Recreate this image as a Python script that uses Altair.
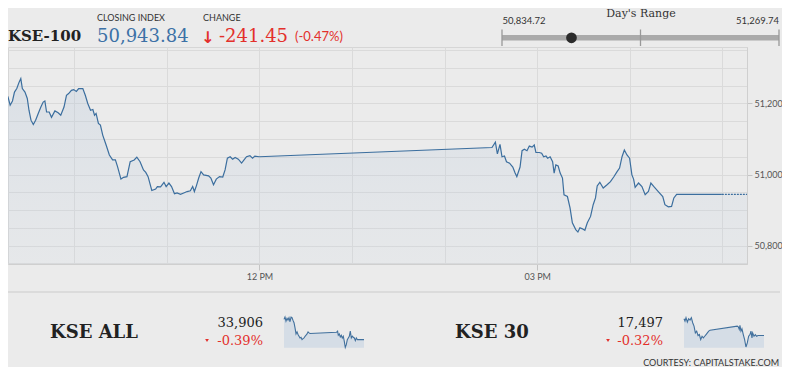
import altair as alt
import pandas as pd

# ---------------- data ----------------
# KSE-100 intraday: minute of the day (9:17 = 557) and index level
morning_minutes = [556.9, 558.4, 559.9, 561.2, 562.7, 564.2, 565.3, 566.3, 568.0, 569.5,
                   570.6, 571.9, 573.4, 574.9, 576.6, 578.3, 579.8, 580.9, 582.0, 583.7,
                   585.2, 587.4, 589.5, 591.2, 593.3, 594.9, 596.3, 598.1, 599.6, 601.3,
                   602.8, 605.5, 607.1, 608.7, 610.5, 612.0, 613.1, 614.1, 615.6, 616.9,
                   618.4, 620.6, 622.7, 624.8, 626.6, 628.0, 630.2, 631.9, 634.1, 636.2,
                   638.8, 640.5, 642.6, 644.8, 646.3, 647.8, 650.2, 652.7, 653.8, 655.9,
                   658.1, 659.5, 661.3, 663.0, 664.9, 666.6, 668.8, 670.9, 673.1, 675.2,
                   676.7, 677.8, 679.1, 680.6, 682.1, 683.8, 687.0, 688.5, 690.2, 692.0,
                   694.1, 696.2, 697.7, 699.2, 701.0, 702.6, 704.2, 706.3, 708.4, 710.0,
                   711.6, 713.8, 715.5, 717.0, 719.8]
morning_values = [51220, 51195, 51207, 51232, 51242, 51260, 51270, 51242, 51232, 51214,
                  51181, 51153, 51141, 51153, 51172, 51190, 51204, 51207, 51176, 51176,
                  51161, 51179, 51174, 51167, 51190, 51223, 51228, 51237, 51239, 51234,
                  51242, 51242, 51223, 51200, 51181, 51183, 51167, 51172, 51144, 51139,
                  51111, 51083, 51055, 51041, 51041, 51022, 50987, 50992, 50994, 51036,
                  51041, 51049, 51036, 51013, 51006, 50994, 50955, 50959, 50966, 50965,
                  50978, 50966, 50976, 50966, 50946, 50948, 50944, 50948, 50952, 50954,
                  50966, 50952, 50968, 50990, 51008, 50999, 50996, 50990, 50971, 50987,
                  50994, 50993, 51013, 51046, 51050, 51043, 51048, 51043, 51032, 51041,
                  51050, 51053, 51046, 51052, 51050]
afternoon_minutes = [870.7, 872.9, 874.2, 875.9, 877.2, 878.8, 880.1, 882.1, 884.2, 885.7,
                     886.8, 888.9, 890.2, 891.7, 893.4, 894.9, 896.7, 898.1, 899.2, 901.4,
                     902.9, 904.2, 905.7, 906.8, 908.4, 910.0, 911.0, 912.1, 913.6, 914.9,
                     916.4, 917.4, 919.6, 921.3, 922.8, 925.0, 926.4, 927.7, 929.3, 930.9,
                     932.5, 934.6, 936.3, 937.8, 938.9, 940.6, 942.8, 945.3, 947.5, 949.6,
                     951.8, 953.4, 955.0, 956.5, 958.2, 959.9, 961.4, 962.5, 963.5, 965.7,
                     967.9, 970.0, 972.1, 973.7, 975.8, 978.5, 981.4, 982.8, 985.0, 987.1,
                     988.6, 990.4, 1019.7]
afternoon_values = [51076, 51091, 51058, 51085, 51050, 51052, 51036, 51032, 51021, 51004,
                    50994, 51021, 51067, 51071, 51067, 51080, 51077, 51083, 51062, 51062,
                    51060, 51050, 51052, 51046, 51050, 51036, 51004, 51027, 51024, 51004,
                    50990, 50943, 50938, 50906, 50864, 50845, 50838, 50850, 50847, 50843,
                    50864, 50882, 50915, 50934, 50968, 50978, 50962, 50971, 50980, 50993,
                    51008, 51018, 51050, 51069, 51055, 51046, 50999, 50987, 50964, 50976,
                    50966, 50943, 50952, 50976, 50965, 50952, 50938, 50915, 50909, 50910,
                    50934, 50944, 50943.84]
tail_minutes = [1019.7, 1036]
tail_values = [50943.84, 50943.84]

day_low = 50834.72
day_high = 51269.74
closing_index = 50943.84

kse_all_minutes = [557, 563, 569, 575, 581, 587, 593, 599, 605, 611, 617, 623, 629, 635,
                   641, 647, 653, 659, 665, 671, 677, 683, 689, 695, 701, 707, 713,
                   872, 878, 882, 888, 894, 900, 906, 912, 918, 924, 930, 936, 942, 948,
                   954, 960, 966, 972, 978, 984, 990, 996, 1036]
kse_all_values = [34026, 34040, 34016, 34032, 34022, 34036, 34012, 34040, 34036, 34020,
                  34006, 33976, 33940, 33952, 33936, 33926, 33916, 33920, 33906, 33912,
                  33916, 33926, 33932, 33940, 33952, 33946, 33942,
                  33950, 33956, 33932, 33940, 33922, 33932, 33916, 33926, 33896, 33860,
                  33876, 33906, 33916, 33926, 33956, 33916, 33926, 33920, 33916, 33900,
                  33916, 33906, 33906]
kse30_minutes = [557, 563, 569, 577, 585, 593, 601, 609, 617, 625, 633, 641, 649, 657,
                 665, 673, 681, 689, 697, 705, 713,
                 876, 882, 888, 892, 898, 904, 912, 920, 928, 936, 944, 952, 958, 964,
                 968, 976, 984, 992, 1000, 1036]
kse30_values = [17547, 17540, 17550, 17537, 17547, 17543, 17550, 17535, 17525, 17505,
                17510, 17497, 17500, 17485, 17495, 17490, 17495, 17500, 17505, 17510, 17513,
                17525, 17523, 17515, 17527, 17510, 17517, 17500, 17485, 17463, 17475,
                17495, 17500, 17510, 17490, 17505, 17495, 17500, 17495, 17497, 17497]

title_main = "KSE-100"
label_close = "CLOSING INDEX"
label_change = "CHANGE"
text_close = "50,943.84"
text_change = "-241.45"
text_change_pct = "(-0.47%)"
text_range_title = "Day's Range"
text_low = "50,834.72"
text_high = "51,269.74"
kse_all_name, kse_all_close, kse_all_pct = "KSE ALL", "33,906", "-0.39%"
kse30_name, kse30_close, kse30_pct = "KSE 30", "17,497", "-0.32%"
courtesy = "COURTESY: CAPITALSTAKE.COM"

# ---------------- styling ----------------
OX, OY = 8, 47          # page position of the plot origin
BG = "#ebebeb"
BLUE_LINE = "#3b6e9e"
RED = "#e3302b"
DARK = "#222222"
SERIF = "DejaVu Serif"
SANS = "Lato"

main_df = pd.DataFrame({"minute": morning_minutes + afternoon_minutes,
                        "level": morning_values + afternoon_values})
area_df = pd.DataFrame({"minute": morning_minutes + afternoon_minutes + tail_minutes[1:],
                        "level": morning_values + afternoon_values + tail_values[1:]})
tail_df = pd.DataFrame({"minute": tail_minutes, "level": tail_values})

X_DOM = [557, 1036]
Y_DOM = [50748, 51359]

xs = alt.Scale(domain=X_DOM, nice=False, zero=False)
ys = alt.Scale(domain=Y_DOM, nice=False, zero=False)

x_axis = alt.Axis(
    values=[600, 660, 720, 780, 840, 900, 960, 1020],
    labelExpr="datum.value == 720 ? '12 PM' : (datum.value == 900 ? '03 PM' : '')",
    grid=True, gridColor="#dadada", gridWidth=1,
    domainColor="#cfcfcf", tickColor="#c4c4c4", tickSize=6,
    tickOpacity={"condition": {"test": "datum.value == 720 || datum.value == 900", "value": 1}, "value": 0},
    labelFont=SANS, labelFontSize=9, labelColor="#555555", labelPadding=2, title=None,
)
y_axis = alt.Axis(
    orient="right",
    values=list(range(50750, 51351, 50)),
    labelExpr="datum.value % 200 == 0 ? format(datum.value, ',') : ''",
    grid=True, gridColor="#dadada", gridWidth=1,
    domainColor="#cfcfcf", tickColor="#c4c4c4", tickSize=5,
    tickOpacity={"condition": {"test": "datum.value % 200 == 0", "value": 1}, "value": 0},
    labelFont=SANS, labelFontSize=9, labelColor="#555555", labelPadding=2, title=None,
)

area = alt.Chart(area_df).mark_area(
    interpolate="linear",
    color=alt.Gradient(
        gradient="linear",
        stops=[alt.GradientStop(color="rgba(180,198,218,0.30)", offset=0),
               alt.GradientStop(color="rgba(200,212,226,0.14)", offset=1)],
        x1=1, x2=1, y1=0, y2=1),
).encode(
    x=alt.X("minute:Q", scale=xs, axis=None),
    y=alt.Y("level:Q", scale=ys, axis=None),
    y2=alt.datum(Y_DOM[0]),
)

line = alt.Chart(main_df).mark_line(color=BLUE_LINE, strokeWidth=1.2).encode(
    x=alt.X("minute:Q", scale=xs, axis=x_axis),
    y=alt.Y("level:Q", scale=ys, axis=y_axis),
)

tail = alt.Chart(tail_df).mark_line(color=BLUE_LINE, strokeWidth=1.2, strokeDash=[2, 1]).encode(
    x=alt.X("minute:Q", scale=xs, axis=None),
    y=alt.Y("level:Q", scale=ys, axis=None),
)

# ---------------- day's range widget ----------------
rs = alt.Scale(domain=[day_low, day_high], range=[502 - OX, 779 - OX], nice=False, zero=False)
range_bar = alt.Chart(pd.DataFrame({"lo": [day_low], "hi": [day_high]})).mark_rule(
    color="#aaaaaa", strokeWidth=5.5).encode(
    x=alt.X("lo:Q", scale=rs, axis=None), x2="hi:Q", y=alt.value(37.8 - OY))
range_ticks = alt.Chart(pd.DataFrame({"v": [day_low, (day_low + day_high) / 2, day_high]})).mark_rule(
    color="#999999", strokeWidth=1.3).encode(
    x=alt.X("v:Q", scale=rs, axis=None), y=alt.value(29.5 - OY), y2=alt.value(46 - OY))
range_dot = alt.Chart(pd.DataFrame({"v": [closing_index]})).mark_point(
    filled=True, size=115, color="#2b2b2b", opacity=1).encode(
    x=alt.X("v:Q", scale=rs, axis=None), y=alt.value(37.8 - OY))

# ---------------- sparklines ----------------
def spark(minutes, values, x0, x1, vmin, vmax, ytop, ybot):
    df = pd.DataFrame({"m": minutes, "v": values})
    sx = alt.Scale(domain=X_DOM, range=[x0 - OX, x1 - OX], nice=False, zero=False)
    sy = alt.Scale(domain=[vmin, vmax], range=[ybot - OY, ytop - OY], nice=False, zero=False)
    a = alt.Chart(df).mark_area(color="#d5dde6", interpolate="linear").encode(
        x=alt.X("m:Q", scale=sx, axis=None),
        y=alt.Y("v:Q", scale=sy, axis=None),
        y2=alt.datum(vmin))
    l = alt.Chart(df).mark_line(color="#41709d", strokeWidth=1.1).encode(
        x=alt.X("m:Q", scale=sx, axis=None),
        y=alt.Y("v:Q", scale=sy, axis=None))
    return [a, l]

spark_all = spark(kse_all_minutes, kse_all_values, 284, 364, 33858, 34042, 316.7, 347.7)
spark_30 = spark(kse30_minutes, kse30_values, 684, 764, 17461, 17552, 317.0, 347.7)

# ---------------- texts & decorations ----------------
def txt(s, px, py, size, color, font=SANS, weight="normal", align="left"):
    return alt.Chart(pd.DataFrame({"s": [s]})).mark_text(
        align=align, baseline="alphabetic", font=font, fontSize=size,
        fontWeight=weight, color=color).encode(
        x=alt.value(px - OX), y=alt.value(py - OY), text="s:N")

texts = [
    txt(title_main, 8, 40.7, 15, DARK, SERIF, "bold"),
    txt(label_close, 97, 20.7, 9, "#333333"),
    txt(label_change, 203, 20.7, 9, "#333333"),
    txt(text_close, 97, 41.7, 18, "#3c71a6", SERIF),
    txt("\u2193", 201, 42.5, 16, RED, "DejaVu Sans", "bold"),
    txt(text_change, 219, 41.7, 18, RED, SERIF),
    txt(text_change_pct, 295, 40.5, 13, RED),
    txt(text_range_title, 641, 16.7, 11, "#333333", SERIF, align="center"),
    txt(text_low, 502.5, 24, 9.5, "#333333"),
    txt(text_high, 779, 24, 9.5, "#333333", align="right"),
    txt(kse_all_name, 50, 338.3, 18, DARK, SERIF, "bold"),
    txt(kse_all_close, 263, 327.3, 13, DARK, SERIF, align="right"),
    txt(kse_all_pct, 263, 345, 13, RED, SERIF, align="right"),
    txt(kse30_name, 455, 338.3, 18, DARK, SERIF, "bold"),
    txt(kse30_close, 663, 327.3, 13, DARK, SERIF, align="right"),
    txt(kse30_pct, 663, 345, 13, RED, SERIF, align="right"),
    txt(courtesy, 779, 366, 9, "#333333", align="right"),
]

separator = alt.Chart(pd.DataFrame({"a": [0]})).mark_rule(color="#cccccc", strokeWidth=1.2).encode(
    x=alt.value(0), x2=alt.value(780 - OX), y=alt.value(292 - OY))

triangle1 = alt.Chart(pd.DataFrame({"a": [0]})).mark_point(
    shape="triangle-down", filled=True, size=14, color=RED, opacity=1).encode(
    x=alt.value(207 - OX), y=alt.value(340.5 - OY))
triangle2 = alt.Chart(pd.DataFrame({"a": [0]})).mark_point(
    shape="triangle-down", filled=True, size=14, color=RED, opacity=1).encode(
    x=alt.value(608 - OX), y=alt.value(340.5 - OY))

layers = [area, line, tail, range_bar, range_ticks, range_dot] + spark_all + spark_30 + \
         [separator, triangle1, triangle2] + texts

chart = alt.layer(*layers).resolve_scale(
    x="independent", y="independent"
).properties(
    width=739, height=217,
    autosize=alt.AutoSizeParams(type="none"),
    padding={"left": 0, "top": 39, "right": 35, "bottom": 103},
    background=BG,
).configure_view(stroke="#d6d6d6", strokeWidth=1)

chart.save("out.html", embed_options={"renderer": "svg", "actions": False})
